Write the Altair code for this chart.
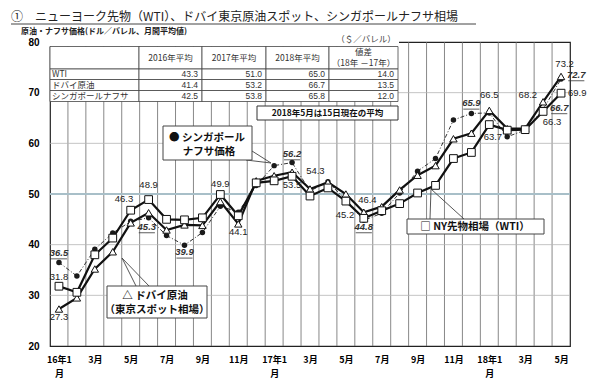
import altair as alt
import pandas as pd

# ---------------- data ----------------
months = list(range(29))          # 0 = 2016-01 ... 28 = 2018-05
tick_months = list(range(0, 29, 2))
tick_labels = [["16年1", "月"], "3月", "5月", "7月", "9月", "11月",
               ["17年1", "月"], "3月", "5月", "7月", "9月", "11月",
               ["18年1", "月"], "3月", "5月"]

wti = [31.8, 30.6, 38.0, 41.3, 46.8, 48.9, 45.0, 44.9, 45.3, 49.9, 45.7, 52.2,
       52.6, 53.5, 49.6, 51.2, 48.6, 45.2, 46.7, 48.1, 50.2, 51.7, 57.0, 58.2,
       63.7, 62.6, 62.7, 66.3, 69.9]
dubai = [27.3, 29.5, 35.2, 38.6, 44.3, 46.3, 42.9, 43.9, 43.8, 48.5, 44.1, 52.6,
         53.6, 54.3, 51.0, 52.3, 50.0, 46.4, 47.5, 50.8, 53.7, 55.6, 60.9, 62.0,
         66.5, 62.9, 62.9, 68.2, 73.2]
naphtha = [36.5, 33.8, 39.1, 42.3, 44.6, 45.3, 41.8, 39.9, 42.4, 47.6, 46.4, 51.7,
           55.6, 56.2, 50.6, 52.4, 48.8, 44.8, 46.2, 50.2, 54.5, 57.0, 64.6, 65.9,
           66.0, 61.3, 62.6, 66.7, 72.7]

table_rows = ["WTI", "ドバイ原油", "シンガポールナフサ"]
table_head = ["2016年平均", "2017年平均", "2018年平均"]
avg_2016 = [43.3, 41.4, 42.5]
avg_2017 = [51.0, 53.2, 53.8]
avg_2018 = [65.0, 66.7, 65.8]
diff_18_17 = [14.0, 13.5, 12.0]

# labelled points: (series, month)
labelled = [("WTI", 0), ("Dubai", 0), ("Naphtha", 0),
            ("Dubai", 5), ("WTI", 5), ("Naphtha", 5), ("Naphtha", 7),
            ("WTI", 9), ("Dubai", 10),
            ("Naphtha", 13), ("Dubai", 13), ("WTI", 13),
            ("WTI", 17), ("Dubai", 17), ("Naphtha", 17),
            ("Naphtha", 23), ("Dubai", 24), ("WTI", 24),
            ("Dubai", 27), ("WTI", 27), ("Naphtha", 27),
            ("Dubai", 28), ("Naphtha", 28), ("WTI", 28)]

# ---------------- layout ----------------
VX0, VY0 = 50, 42
PLOT_W, PLOT_H = 520, 304
BAND = PLOT_W / 29
PPU = PLOT_H / 60


def xd(px):
    return (px - VX0) / BAND - 0.5


def yd(py):
    return 80 - (py - VY0) / PPU


XS = alt.Scale(domain=[-0.5, 28.5], nice=False, zero=False)
YS = alt.Scale(domain=[20, 80], nice=False, zero=False)
JP = "Noto Sans CJK JP"
LAT = "Liberation Sans"

lbl_js = "[" + ",".join(
    ("[" + ",".join(f"'{p}'" for p in l) + "]") if isinstance(l, list) else f"'{l}'"
    for l in tick_labels) + "]"
X_AXIS = alt.Axis(values=tick_months, labelExpr=f"{lbl_js}[round(datum.value/2)]",
                  grid=False, ticks=False, domain=False, labelFont=JP,
                  labelFontWeight="bold", labelFontSize=9, labelColor="black",
                  labelPadding=9, labelLineHeight=14, labelAngle=0,
                  labelBaseline="top", labelFlush=False, labelOverlap=False, title=None)
Y_AXIS = alt.Axis(values=[20, 30, 40, 50, 60, 70, 80], grid=False, ticks=False,
                  domain=False, labelFont=LAT, labelFontWeight="bold",
                  labelFontSize=10, labelColor="black", labelPadding=11, title=None)


def X(f="x"):
    return alt.X(f"{f}:Q", scale=XS, axis=X_AXIS)


def Y(f="y"):
    return alt.Y(f"{f}:Q", scale=YS, axis=Y_AXIS)


def texts(rows, **kw):
    df = pd.DataFrame([{"x": xd(a), "y": yd(b), "t": t} for a, b, t in rows])
    return alt.Chart(df).mark_text(**kw).encode(x=X(), y=Y(), text="t:N")


def rects(rows, **kw):
    df = pd.DataFrame([{"x": xd(a), "x2": xd(b), "y": yd(c), "y2": yd(d)} for a, b, c, d in rows])
    return alt.Chart(df).mark_rect(**kw).encode(x=X(), x2="x2:Q", y=Y(), y2="y2:Q")


def segs(rows, **kw):
    df = pd.DataFrame([{"x": xd(a), "y": yd(b), "x2": xd(c), "y2": yd(d)} for a, b, c, d in rows])
    return alt.Chart(df).mark_rule(**kw).encode(x=X(), y=Y(), x2="x2:Q", y2="y2:Q")


# ---------------- grid ----------------
vgrid = alt.Chart(pd.DataFrame({"x": [m + 0.5 for m in months[:-1]]})).mark_rule(
    color="#6a6a6a", strokeWidth=0.8).encode(x=X())
hgrid = alt.Chart(pd.DataFrame({"y": [30, 40, 60, 70]})).mark_rule(
    color="#b5b5b5", strokeWidth=0.8).encode(y=Y())
line50 = alt.Chart(pd.DataFrame({"y": [50]})).mark_rule(
    color="#a8bfc8", strokeWidth=2).encode(y=Y())

# ---------------- series ----------------
data = {"WTI": wti, "Dubai": dubai, "Naphtha": naphtha}
dfs = {k: pd.DataFrame({"x": months, "y": v}) for k, v in data.items()}

naph_line = alt.Chart(dfs["Naphtha"]).mark_line(
    color="#333", strokeWidth=1, strokeDash=[4, 2, 1, 2]).encode(x=X(), y=Y())
dub_line = alt.Chart(dfs["Dubai"]).mark_line(color="#111", strokeWidth=2.2).encode(x=X(), y=Y())
wti_line = alt.Chart(dfs["WTI"]).mark_line(color="#111", strokeWidth=2.2).encode(x=X(), y=Y())
naph_pts = alt.Chart(dfs["Naphtha"]).mark_circle(color="#1a1a1a", size=30, opacity=1).encode(
    x=X(), y=Y())
dub_pts = alt.Chart(dfs["Dubai"]).mark_point(shape="triangle-up", filled=True, fill="white",
                                              stroke="#111", strokeWidth=1, size=55, opacity=1).encode(
    x=X(), y=Y())
wti_pts = alt.Chart(dfs["WTI"]).mark_point(shape="square", filled=True, fill="white",
                                            stroke="#111", strokeWidth=1, size=60, opacity=1).encode(
    x=X(), y=Y())

# ---------------- value labels ----------------
offsets = [(0, 1.8), (0, -1.6), (0, 1.85),
           (-1.37, 2.7), (0, 2.9), (-0.1, -1.8), (0, -1.4),
           (0, 2.1), (0, -1.6),
           (0, 1.7), (1.3, 0.2), (0, -1.8),
           (-1.05, 0.6), (0.2, 2.4), (0, -1.3),
           (0, 2.0), (0, 3.0), (0.2, -2.4),
           (-0.85, 1.3), (0.5, -2.1), (0.9, 0.3),
           (0.2, 2.4), (0.85, 0.8), (0.9, 0.0)]
rows = []
for (s, m), (ox, oy) in zip(labelled, offsets):
    v = data[s][m]
    rows.append({"x": m + ox, "y": v + oy, "t": f"{v:.1f}", "it": s == "Naphtha"})
lab = pd.DataFrame(rows)
plain_lbl = alt.Chart(lab[~lab.it]).mark_text(font=LAT, fontSize=9.5, color="#222").encode(
    x=X(), y=Y(), text="t:N")
ital_lbl = alt.Chart(lab[lab.it]).mark_text(font=LAT, fontSize=9.5, fontStyle="italic",
                                            fontWeight="bold", color="#333").encode(
    x=X(), y=Y(), text="t:N")
ul = lab[lab.it].assign(xa=lambda d: d.x - 0.45, xb=lambda d: d.x + 0.45, yu=lambda d: d.y - 1.15)
underline = alt.Chart(ul).mark_rule(color="#333", strokeWidth=0.8).encode(
    x=X("xa"), x2="xb:Q", y=Y("yu"))

# ---------------- table ----------------
cols = [50, 139, 202, 266, 329, 398]
rws = [46.5, 69, 79.5, 90.5, 101.5]
cover = rects([(49, 399, 34, 46.5)], fill="white", stroke=None)
cells = rects([(cols[c], cols[c + 1], rws[r], rws[r + 1]) for c in range(5) for r in range(4)],
              fill="white", stroke="#444", strokeWidth=0.8)
unit_txt = texts([(366, 39, "（＄／バレル）")], font=JP, fontSize=8.5, color="#444")
head_txt = texts([((cols[i + 1] + cols[i + 2]) / 2, 58, h) for i, h in enumerate(table_head)],
                 font=JP, fontSize=8.5, color="#333")
diff_head = texts([(363.5, 52, "値差"), (363.5, 63, "（18年 －17年）")],
                  font=JP, fontSize=8.5, color="#333")
name_txt = texts([(52, (rws[i + 1] + rws[i + 2]) / 2, n) for i, n in enumerate(table_rows)],
                 font=JP, fontSize=8.5, color="#333", align="left")
num_rows = []
for i in range(3):
    yc = (rws[i + 1] + rws[i + 2]) / 2
    for c, vals in zip([202, 266, 329, 398], [avg_2016, avg_2017, avg_2018, diff_18_17]):
        num_rows.append((c - 4, yc, f"{vals[i]:.1f}"))
num_txt = texts(num_rows, font=LAT, fontSize=8.5, color="#333", align="right")

# ---------------- notes & callouts ----------------
note = rects([(257, 398, 106, 120)], fill="white", stroke="#333", strokeWidth=1)
note_txt = texts([(327.5, 113, "2018年5月は15日現在の平均")], font=JP, fontSize=8.5,
                 fontWeight="bold", color="#111")

tails = segs([(246, 160, 271, 163), (252, 151, 271, 163),
              (122, 258, 136, 286), (122, 258, 149, 286),
              (431, 189, 430, 219), (431, 189, 464, 219)],
             color="#444", strokeWidth=0.9)
boxes = rects([(163, 252, 126, 160), (107, 207, 286, 318), (407, 544, 219, 234)],
              fill="white", stroke="#444", strokeWidth=1)
box_txt = texts([(207, 138, "●  シンガポール"), (209, 152, "ナフサ価格"),
                 (155, 296, "△  ドバイ原油"), (157, 310, "（東京スポット相場）"),
                 (475, 227, "□  NY先物相場（WTI）")],
                font=JP, fontSize=10.5, fontWeight="bold", color="#111")

# ---------------- titles ----------------
title_txt = texts([(11, 17, "①　ニューヨーク先物（WTI）、ドバイ東京原油スポット、シンガポールナフサ相場")],
                  font=JP, fontSize=12, color="#222", align="left")
title_ul = segs([(11, 24, 476, 24)], color="#444", strokeWidth=1)
sub_txt = texts([(21, 32, "原油・ナフサ価格(ドル／バレル、月間平均値)")],
                font=JP, fontSize=8, fontWeight="bold", color="#222", align="left")

chart = alt.layer(
    vgrid, hgrid, line50,
    cover, cells, unit_txt, head_txt, diff_head, name_txt, num_txt,
    note, note_txt,
    tails, boxes, box_txt,
    naph_line, dub_line, wti_line, naph_pts, dub_pts, wti_pts,
    plain_lbl, underline, ital_lbl,
    title_txt, title_ul, sub_txt,
).properties(
    width=PLOT_W, height=PLOT_H,
    autosize=alt.AutoSizeParams(type="none"),
    padding={"left": 42, "top": 34, "right": 30, "bottom": 37},
    background="white",
).configure_view(stroke="#222", strokeWidth=1.2)

chart.save("out.html", embed_options={"renderer": "svg", "actions": False})
